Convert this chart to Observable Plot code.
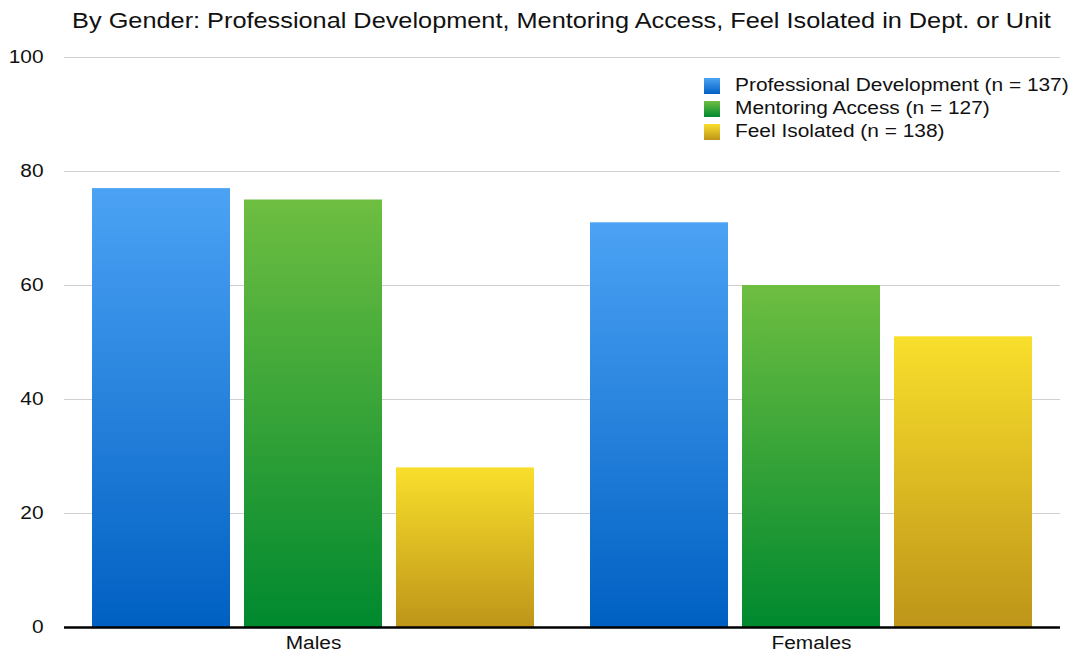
<!DOCTYPE html>
<html>
<head>
<meta charset="utf-8">
<script src="https://cdn.jsdelivr.net/npm/d3@7"></script>
<script src="https://cdn.jsdelivr.net/npm/@observablehq/plot@0.6"></script>
<style>
  html, body { margin: 0; padding: 0; background: #fff; }
  body { width: 1076px; height: 658px; position: relative; overflow: hidden; font-family: "Liberation Sans", Arial, sans-serif; }
  #titlebox { height: 40px; position: relative; }
  #title { position: absolute; left: 63px; width: 997px; top: 8px; text-align: center; font-size: 22px; line-height: normal; color: #111; white-space: nowrap; transform: scaleX(1.15); transform-origin: 50% 50%; }
  #legend { position: absolute; left: 704px; top: 74px; font-size: 18px; color: #111; }
  .row { display: flex; align-items: center; height: 23px; }
  .sw { width: 16px; height: 16px; margin-right: 15px; flex: none; }
  .lbl { display: inline-block; transform: scaleX(1.16); transform-origin: 0 50%; white-space: nowrap; }
</style>
</head>
<body>
<div id="titlebox"><div id="title">By Gender: Professional Development, Mentoring Access, Feel Isolated in Dept. or Unit</div></div>
<div id="chart"></div>
<div id="legend"></div>
<script>
const genders = ["Males", "Females"];
const series = ["Professional Development", "Mentoring Access", "Feel Isolated"];
const seriesN = [137, 127, 138];
const profDev = [77, 71];
const mentoring = [75, 60];
const isolated = [28, 51];
const yTicks = [0, 20, 40, 60, 80, 100];
const gradTop = ["#4ca3f5", "#6ebe41", "#f9df2c"];
const gradBottom = ["#0060c2", "#00892f", "#be9519"];
const gradIds = ["gPD", "gMA", "gFI"];

const valuesBySeries = [profDev, mentoring, isolated];
const rows = series.map((s, i) => genders.map((g, j) => ({gender: g, series: s, value: valuesBySeries[i][j]})));

const chart = Plot.plot({
  width: 1076,
  height: 618,
  marginTop: 17,
  marginBottom: 31,
  marginLeft: 63,
  marginRight: 16,
  style: {fontFamily: "Liberation Sans, Arial, sans-serif", fontSize: "18px", color: "#111", background: "#fff"},
  fx: {domain: genders, padding: 0, label: null, axis: "bottom", tickSize: 0, tickPadding: 9},
  x: {domain: series, axis: null, paddingInner: 0.0915, paddingOuter: 0.175},
  y: {domain: [0, 100], ticks: yTicks, tickSize: 0, tickPadding: 21, label: null, tickFormat: d => String(d)},
  marks: [
    Plot.gridY(yTicks.filter(d => d > 0), {stroke: "#cfcfcf", strokeOpacity: 1, strokeWidth: 1}),
    ...rows.map((data, i) => Plot.barY(data, {fx: "gender", x: "series", y: "value", fill: `url(#${gradIds[i]})`, inset: 0})),
    Plot.ruleY([0], {stroke: "#000", strokeWidth: 2.5})
  ]
});

const defs = d3.select(chart).insert("defs", ":first-child");
gradIds.forEach((id, i) => {
  const lg = defs.append("linearGradient").attr("id", id).attr("x1", 0).attr("y1", 0).attr("x2", 0).attr("y2", 1);
  lg.append("stop").attr("offset", "0%").attr("stop-color", gradTop[i]);
  lg.append("stop").attr("offset", "100%").attr("stop-color", gradBottom[i]);
});

document.getElementById("chart").appendChild(chart);

// widen axis text horizontally (reference glyphs are slightly wide)
d3.select(chart).selectAll("text").each(function() {
  const len = this.getComputedTextLength();
  if (len > 0) {
    this.setAttribute("textLength", (len * 1.16).toFixed(2));
    this.setAttribute("lengthAdjust", "spacingAndGlyphs");
  }
});

const legend = d3.select("#legend");
series.forEach((s, i) => {
  const r = legend.append("div").attr("class", "row");
  r.append("div").attr("class", "sw").style("background", `linear-gradient(${gradTop[i]}, ${gradBottom[i]})`);
  r.append("span").attr("class", "lbl").text(`${s} (n = ${seriesN[i]})`);
});
</script>
</body>
</html>
